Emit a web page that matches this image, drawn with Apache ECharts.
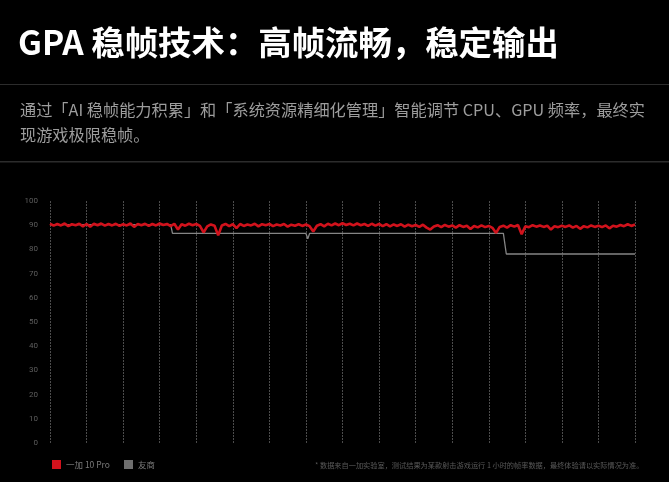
<!DOCTYPE html>
<html>
<head>
<meta charset="utf-8">
<script src="https://cdn.jsdelivr.net/npm/echarts@6/dist/echarts.min.js"></script>
<style>
html,body{margin:0;padding:0;background:#000;}
#c{width:669px;height:482px;}
</style>
</head>
<body>
<div id="c"></div>
<script>
// ---- data ----
const titleText = 'GPA 稳帧技术：高帧流畅，稳定输出';
const subLine1 = '通过「AI 稳帧能力积累」和「系统资源精细化管理」智能调节 CPU、GPU 频率，最终实';
const subLine2 = '现游戏极限稳帧。';
const footnote = '* 数据来自一加实验室，测试结果为某款射击游戏运行 1 小时的帧率数据，最终体验请以实际情况为准。';
const seriesNames = ['一加 10 Pro', '友商'];
const yTicks = [0, 10, 20, 30, 40, 50, 60, 70, 80, 90, 100];
// red series: one sample every 0.1 grid division (161 samples)
const redValues = [
  90.6, 89.8, 90.5, 89.9, 90.7, 89.6, 90.4, 90.0, 90.6, 89.5,
  90.5, 89.4, 90.6, 90.0, 90.7, 89.8, 90.5, 89.9, 90.6, 89.7,
  90.4, 89.9, 90.7, 89.3, 90.5, 90.0, 90.6, 89.7, 90.5, 89.9,
  90.7, 90.1, 90.5, 89.6, 90.6, 88.2, 90.4, 89.8, 90.6, 90.0,
  90.5, 89.7, 87.0, 89.5, 90.3, 89.8, 85.8, 89.9, 90.5, 89.6,
  90.4, 88.8, 90.5, 89.7, 90.3, 89.9, 90.6, 89.5, 90.4, 90.0,
  90.5, 89.6, 90.3, 89.9, 90.5, 89.4, 90.2, 89.8, 90.4, 89.7,
  90.3, 89.6, 87.4, 89.8, 90.4, 89.5, 90.6, 89.9, 90.7, 90.0,
  90.8, 90.1, 90.6, 89.9, 90.7, 90.0, 90.5, 89.7, 90.6, 89.8,
  90.5, 89.6, 90.4, 89.5, 90.3, 89.7, 90.4, 89.4, 90.2, 89.6,
  90.1, 89.3, 90.2, 89.0, 88.2, 89.5, 90.0, 89.2, 90.1, 89.4,
  89.9, 89.0, 90.0, 89.3, 89.8, 88.4, 89.7, 89.1, 89.9, 89.2,
  89.7, 88.9, 86.8, 89.3, 89.8, 89.0, 90.0, 89.4, 90.1, 86.3,
  89.6, 89.2, 90.0, 89.4, 89.9, 89.3, 89.8, 88.2, 89.6, 89.2,
  89.8, 89.3, 89.9, 89.0, 89.7, 88.5, 89.6, 89.1, 89.9, 89.3,
  89.8, 89.2, 89.9, 88.7, 89.8, 89.4, 90.1, 89.6, 90.4, 89.7,
  90.3
];
// grey series: step-like trace (x in tenths of a grid division)
const grayX = [0, 33, 33.5, 48, 48.5, 49, 70, 70.5, 71, 99, 99.5, 100, 124, 124.8, 160];
const grayY = [90.2, 90.2, 86.6, 86.6, 85.9, 86.6, 86.6, 84.4, 86.6, 86.6, 85.8, 86.6, 86.6, 78.1, 78.1];

// ---- build ----
const redData = redValues.map((v, i) => [i, v]);
const grayData = grayX.map((x, i) => [x, grayY[i]]);
const CJK = '"Noto Sans CJK SC", "Noto Sans", sans-serif';

const chart = echarts.init(document.getElementById('c'), null, {renderer: 'canvas'});
chart.setOption({
  backgroundColor: '#000',
  animation: false,
  textStyle: {fontFamily: CJK},
  grid: {left: 50, right: 34, top: 201, bottom: 39, containLabel: false},
  xAxis: {
    type: 'value', min: 0, max: 160, interval: 10,
    axisLine: {show: false}, axisTick: {show: false}, axisLabel: {show: false},
    splitLine: {show: true, lineStyle: {color: '#4c4c4c', width: 1, type: [2, 1]}}
  },
  yAxis: {
    type: 'value', min: 0, max: 100, interval: 10,
    axisLine: {show: false}, axisTick: {show: false},
    splitLine: {show: false},
    axisLabel: {
      color: '#5e5e5e', fontSize: 8, margin: 12, fontFamily: 'Roboto, sans-serif',
      formatter: v => (yTicks.indexOf(v) >= 0 ? String(v) : '')
    }
  },
  legend: {
    left: 52, top: 460, padding: 0, itemWidth: 9, itemHeight: 9, itemGap: 14, icon: 'rect',
    textStyle: {color: '#7a7a7a', fontSize: 8.5, fontFamily: CJK},
    data: [
      {name: seriesNames[0], itemStyle: {color: '#d1121c'}},
      {name: seriesNames[1], itemStyle: {color: '#6e6e6e'}}
    ]
  },
  series: [
    {
      name: seriesNames[1], type: 'line', data: grayData, showSymbol: false, symbol: 'none',
      lineStyle: {color: '#858585', width: 1.3}, itemStyle: {color: '#6e6e6e'}, z: 2
    },
    {
      name: seriesNames[0], type: 'line', data: redData, showSymbol: false, symbol: 'none',
      lineStyle: {color: '#d1121c', width: 2.6}, itemStyle: {color: '#d1121c'}, z: 3
    }
  ],
  graphic: [
    {type: 'rect', shape: {x: 0, y: 84, width: 669, height: 1}, style: {fill: '#2c2c2c'}, silent: true},
    {type: 'rect', shape: {x: 0, y: 161, width: 669, height: 1.5}, style: {fill: '#2c2c2c'}, silent: true},
    {type: 'text', left: 18, top: 26, style: {text: titleText, fill: '#ffffff', fontSize: 33.4, fontWeight: 'bold', fontFamily: CJK}},
    {type: 'text', left: 20, top: 102, style: {text: subLine1, fill: '#9d9d9d', fontSize: 16.2, fontFamily: CJK}},
    {type: 'text', left: 20, top: 127, style: {text: subLine2, fill: '#9d9d9d', fontSize: 16.2, fontFamily: CJK}},
    {type: 'text', left: 315, top: 462, style: {text: footnote, fill: '#5a5a5a', fontSize: 7.2, fontFamily: CJK}}
  ]
});
</script>
</body>
</html>
